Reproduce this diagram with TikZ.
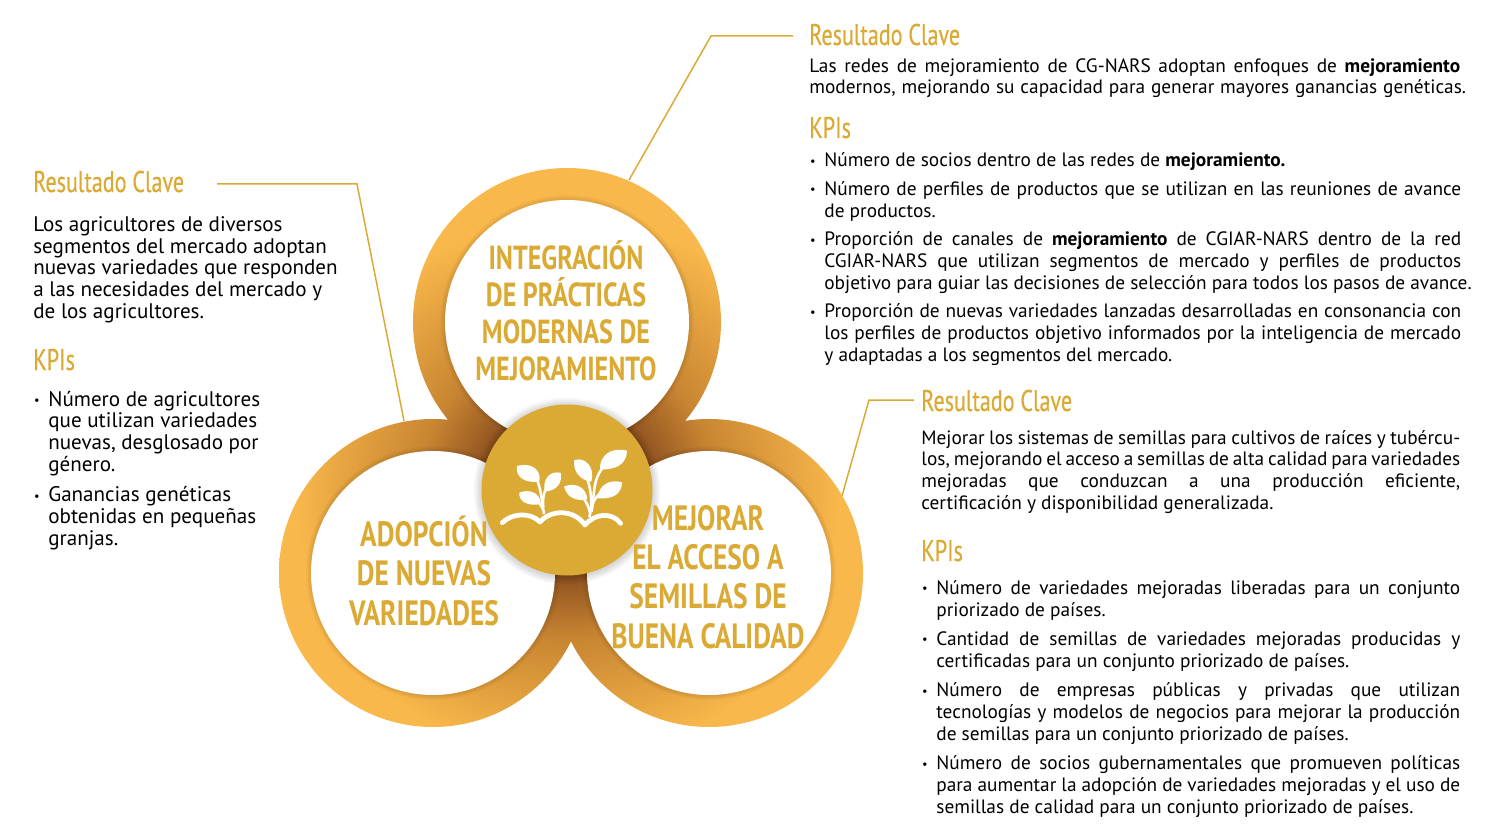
\documentclass[tikz,border=0pt]{standalone}
\usepackage{fontspec}
\setmainfont{PT Sans}
\newfontfamily\headfont[FakeStretch=0.74,FakeBold=0.4]{PT Sans}
\newfontfamily\ringfont[FakeStretch=0.78]{PT Sans Bold}
\usepackage{tikz}
\usepackage{xcolor}
\definecolor{goldtext}{HTML}{DBAA35}
\definecolor{ringlight}{HTML}{F9B84B}
\definecolor{ringmid}{HTML}{C98632}
\definecolor{ringdark}{HTML}{8F5220}
\pgfdeclareradialshading{ringglow}{\pgfpointorigin}{color(0bp)=(ringdark);color(6.25bp)=(ringdark);color(11bp)=(ringmid);color(20bp)=(ringlight);color(50bp)=(ringlight)}
\newcommand{\jl}[2][362.5pt]{\makebox[#1][s]{#2}}
\newcommand{\bul}{\llap{\raisebox{1pt}{\fontsize{7}{7}\selectfont\textbullet}\hspace{5pt}}}
\tikzset{
    keytitle/.style={anchor=base west,inner sep=0pt,text=goldtext,font=\headfont\fontsize{17}{18}\selectfont},
    bodytext/.style={anchor=base west,inner sep=0pt,align=left,font=\fontsize{11}{12.3}\selectfont},
    bodyleft/.style={bodytext,font=\fontsize{12}{12.3}\selectfont},
    ringtitle/.style={anchor=base,inner sep=0pt,align=center,text=goldtext},
    leader/.style={color=goldtext,line width=0.03cm},
}
\begin{document}
\begin{tikzpicture}[x=0.02cm,y=-0.02cm]
        \useasboundingbox (0,0) rectangle (1500,831);
        \coordinate (topc) at (567,322);
        \coordinate (leftc) at (433,573);
        \coordinate (rightc) at (709,573);
        \coordinate (midc) at (567,490);
        \coordinate (topa) at (629,180);
        \coordinate (topb) at (711,36);
        \coordinate (topd) at (793,36);
        \coordinate (lefta) at (217,184);
        \coordinate (leftb) at (357,184);
        \coordinate (leftd) at (404,421);
        \coordinate (righta) at (914,400);
        \coordinate (rightb) at (869,400);
        \coordinate (rightd) at (842,496);
        \draw[leader] (topa)--(topb)--(topd);
        \draw[leader] (lefta)--(leftb)--(leftd);
        \draw[leader] (righta)--(rightb)--(rightd);
        \begin{scope}
            \clip (topc) circle (154) (leftc) circle (154) (rightc) circle (154) (midc) circle (120);
            \shade[shading=ringglow] (midc) circle (340);
        \end{scope}
        \foreach \c in {topc,leftc,rightc} {
            \foreach \r in {1,2,3,4,5} {
                \fill[black,opacity=0.02] (\c) circle (122+\r);
            }
            \fill[white] (\c) circle (122);
        }
        \foreach \r in {1,...,8} {
            \fill[black,opacity=0.02] ([yshift=-0.02cm]midc) circle (85.5+\r);
        }
        \fill[goldtext] (midc) circle (85.5);
        \begin{scope}[shift={(470,400)},x=0.00667cm,y=-0.00667cm]
            \draw[white,line width=0.095cm,line cap=round,line join=round] (97,368) .. controls (125,340) and (180,335) .. (210,366) .. controls (240,330) and (310,325) .. (345,375) .. controls (375,340) and (425,335) .. (452,370);
            \draw[white,line width=0.05cm] (222,342) .. controls (216,310) and (215,270) .. (198,232);
            \draw[white,line width=0.05cm] (220,322) .. controls (218,300) and (218,280) .. (235,255);
            \draw[white,line width=0.05cm] (220,330) .. controls (214,315) and (205,305) .. (190,295);
            \draw[white,line width=0.05cm] (358,352) .. controls (366,320) and (368,270) .. (345,220);
            \draw[white,line width=0.05cm] (365,335) .. controls (375,280) and (365,240) .. (405,195);
            \draw[white,line width=0.05cm] (360,340) .. controls (355,315) and (345,295) .. (325,280);
            \draw[white,line width=0.05cm] (366,315) .. controls (375,295) and (385,280) .. (410,265);
            \fill[white] (141,198) .. controls (185,186) and (215,210) .. (208,245) .. controls (170,250) and (135,235) .. (141,198);
            \fill[white] (148,278) .. controls (180,265) and (212,280) .. (212,312) .. controls (175,320) and (145,305) .. (148,278);
            \fill[white] (272,218) .. controls (235,212) and (218,240) .. (224,275) .. controls (260,272) and (278,250) .. (272,218);
            \fill[white] (313,180) .. controls (350,170) and (375,205) .. (364,245) .. controls (330,240) and (308,215) .. (313,180);
            \fill[white] (282,260) .. controls (315,245) and (350,262) .. (352,298) .. controls (315,305) and (290,290) .. (282,260);
            \fill[white] (471,152) .. controls (425,140) and (388,165) .. (390,208) .. controls (435,210) and (470,195) .. (471,152);
            \fill[white] (456,247) .. controls (420,236) and (385,255) .. (383,295) .. controls (425,298) and (455,285) .. (456,247);
        \end{scope}
        \node[ringtitle,font=\ringfont\fontsize{19}{20.9}\selectfont] (toptitle) at (566,380) {INTEGRACIÓN\\DE PRÁCTICAS\\MODERNAS DE\\MEJORAMIENTO};
        \node[ringtitle,font=\ringfont\fontsize{20}{22.3}\selectfont] (lefttitle) at (424,625) {ADOPCIÓN\\DE NUEVAS\\VARIEDADES};
        \node[ringtitle,font=\ringfont\fontsize{20}{22.3}\selectfont] (righttitle) at (708,648) {MEJORAR\\EL ACCESO A\\SEMILLAS DE\\BUENA CALIDAD};
        \node[keytitle] (topkey) at (809,45) {Resultado Clave};
        \node[bodytext] (topdesc) at (809,94) {\jl[370.4pt]{Las redes de mejoramiento de CG-NARS adoptan enfoques de \textbf{mejoramiento}}\\\jl[373.8pt]{modernos, mejorando su capacidad para generar mayores ganancias genéticas.}};
        \node[keytitle] (topkpi) at (809,138) {KPIs};
        \node[bodytext] (topa1) at (824,167) {\bul Número de socios dentro de las redes de \textbf{mejoramiento.}};
        \node[bodytext] (topa2) at (824,217) {\bul\jl{Número de perfiles de productos que se utilizan en las reuniones de avance}\\de productos.};
        \node[bodytext] (topa3) at (824,289) {\bul\jl{Proporción de canales de \textbf{mejoramiento} de CGIAR-NARS dentro de la red}\\\jl{CGIAR-NARS que utilizan segmentos de mercado y perfiles de productos}\\objetivo para guiar las decisiones de selección para todos los pasos de avance.};
        \node[bodytext] (topa4) at (824,361) {\bul\jl{Proporción de nuevas variedades lanzadas desarrolladas en consonancia con}\\\jl{los perfiles de productos objetivo informados por la inteligencia de mercado}\\y adaptadas a los segmentos del mercado.};
        \node[keytitle] (leftkey) at (33,192) {Resultado Clave};
        \node[bodyleft] (leftdesc) at (33,318) {Los agricultores de diversos\\segmentos del mercado adoptan\\nuevas variedades que responden\\a las necesidades del mercado y\\de los agricultores.};
        \node[keytitle] (leftkpi) at (33,370) {KPIs};
        \node[bodyleft] (lefta1) at (48,471) {\bul Número de agricultores\\que utilizan variedades\\nuevas, desglosado por\\género.};
        \node[bodyleft] (lefta2) at (48,545) {\bul Ganancias genéticas\\obtenidas en pequeñas\\granjas.};
        \node[keytitle] (rightkey) at (921,411) {Resultado Clave};
        \node[bodytext] (rightdesc) at (921,509) {\jl[306.7pt]{Mejorar los sistemas de semillas para cultivos de raíces y tubércu-}\\\jl[306.7pt]{los, mejorando el acceso a semillas de alta calidad para variedades}\\\jl[306.7pt]{mejoradas que conduzcan a una producción eficiente,}\\certificación y disponibilidad generalizada.};
        \node[keytitle] (rightkpi) at (921,561) {KPIs};
        \node[bodytext] (righta1) at (936,616) {\bul\jl[298.2pt]{Número de variedades mejoradas liberadas para un conjunto}\\priorizado de países.};
        \node[bodytext] (righta2) at (936,667) {\bul\jl[298.2pt]{Cantidad de semillas de variedades mejoradas producidas y}\\certificadas para un conjunto priorizado de países.};
        \node[bodytext] (righta3) at (936,740) {\bul\jl[298.2pt]{Número de empresas públicas y privadas que utilizan}\\\jl[298.2pt]{tecnologías y modelos de negocios para mejorar la producción}\\de semillas para un conjunto priorizado de países.};
        \node[bodytext] (righta4) at (936,813) {\bul\jl[298.2pt]{Número de socios gubernamentales que promueven políticas}\\\jl[298.2pt]{para aumentar la adopción de variedades mejoradas y el uso de}\\semillas de calidad para un conjunto priorizado de países.};
    \end{tikzpicture}
\end{document}
